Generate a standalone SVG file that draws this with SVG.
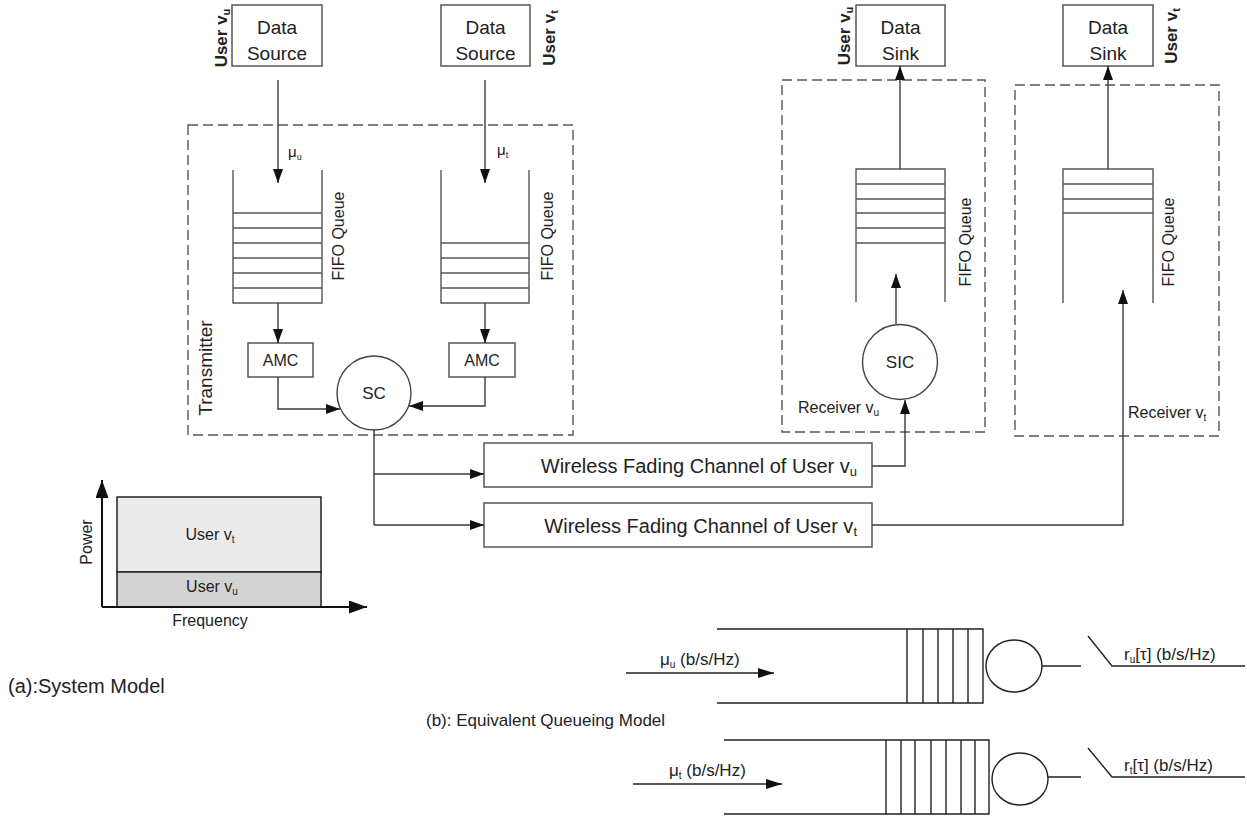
<svg xmlns="http://www.w3.org/2000/svg" width="1247" height="817" viewBox="0 0 1247 817">
<style>
text{font-family:"Liberation Sans",Arial,sans-serif;fill:#222}
.box{fill:#fff;stroke:#555;stroke-width:1.5}
.dash{fill:none;stroke:#555;stroke-width:1.4;stroke-dasharray:10 5}
.ln{fill:none;stroke:#3a3a3a;stroke-width:1.4}
.q{fill:none;stroke:#555;stroke-width:1.4}
.qk{fill:none;stroke:#222;stroke-width:1.4}
.arr{marker-end:url(#ah)}
.lbl{font-size:17px;font-weight:bold}
.fifo{font-size:16px}
.ds{font-size:19px}
</style>
<defs>
<marker id="ah" markerUnits="userSpaceOnUse" viewBox="0 0 14 10" markerWidth="14" markerHeight="10" refX="14" refY="5" orient="auto"><path d="M0,0 L14,5 L0,10 z" fill="#111"/></marker>
<marker id="ahq" markerUnits="userSpaceOnUse" viewBox="0 0 16 10" markerWidth="16" markerHeight="10" refX="16" refY="5" orient="auto"><path d="M0,0 L16,5 L0,10 z" fill="#111"/></marker>
<marker id="ahc" markerUnits="userSpaceOnUse" viewBox="0 0 18 13" markerWidth="18" markerHeight="13" refX="18" refY="6.5" orient="auto"><path d="M0,0 L18,6.5 L0,13 z" fill="#111"/></marker>
</defs>
<rect width="1247" height="817" fill="#fff"/>

<!-- Transmitter -->
<g id="transmitter">
<rect class="dash" x="188" y="125" width="385" height="310"/>
<text transform="translate(212,368) rotate(-90)" text-anchor="middle" style="font-size:19px">Transmitter</text>
</g>

<g id="source-u">
<rect class="box" x="232" y="5" width="90" height="61"/>
<text class="ds" x="277" y="34" text-anchor="middle">Data</text>
<text class="ds" x="277" y="60" text-anchor="middle">Source</text>
<text class="lbl" transform="translate(227,38) rotate(-90)" text-anchor="middle">User v<tspan font-size="11" dy="3">u</tspan></text>
</g>
<g id="source-t">
<rect class="box" x="441" y="5" width="89" height="61"/>
<text class="ds" x="485.5" y="34" text-anchor="middle">Data</text>
<text class="ds" x="485.5" y="60" text-anchor="middle">Source</text>
<text class="lbl" transform="translate(555,38) rotate(-90)" text-anchor="middle">User v<tspan font-size="11" dy="3">t</tspan></text>
</g>

<g id="queue-tx-u">
<path class="q" d="M233,170 V303 H322 V170 M233,213 H322 M233,228 H322 M233,243 H322 M233,258 H322 M233,273 H322 M233,288 H322"/>
<text class="fifo" transform="translate(344,236) rotate(-90)" text-anchor="middle">FIFO Queue</text>
</g>
<g id="queue-tx-t">
<path class="q" d="M441,170 V303 H529 V170 M441,243 H529 M441,258 H529 M441,273 H529 M441,288 H529"/>
<text class="fifo" transform="translate(553,236) rotate(-90)" text-anchor="middle">FIFO Queue</text>
</g>

<g id="amc-u">
<rect class="box" x="248" y="343" width="65" height="34"/>
<text x="280.5" y="366" text-anchor="middle" style="font-size:16px">AMC</text>
</g>
<g id="amc-t">
<rect class="box" x="449" y="343" width="66" height="34"/>
<text x="482" y="366" text-anchor="middle" style="font-size:16px">AMC</text>
</g>
<g id="sc">
<circle cx="374" cy="393" r="37" fill="#fff" stroke="#444" stroke-width="1.4"/>
<text x="374" y="399" text-anchor="middle" style="font-size:17px">SC</text>
</g>

<g id="mu-labels">
<text x="288" y="157" style="font-size:15px">μ<tspan font-size="9" dy="3">u</tspan></text>
<text x="497" y="155" style="font-size:15px">μ<tspan font-size="9" dy="3">t</tspan></text>
</g>

<!-- Receivers -->
<g id="receiver-u">
<rect class="dash" x="782" y="80" width="203" height="352"/>
<text x="798" y="413" style="font-size:16px">Receiver v<tspan font-size="10" dy="3">u</tspan></text>
</g>
<g id="sink-u">
<rect class="box" x="856" y="5" width="89" height="61"/>
<text class="ds" x="900.5" y="34" text-anchor="middle">Data</text>
<text class="ds" x="900.5" y="60" text-anchor="middle">Sink</text>
<text class="lbl" transform="translate(850,36) rotate(-90)" text-anchor="middle">User v<tspan font-size="11" dy="3">u</tspan></text>
</g>
<g id="queue-rx-u">
<path class="q" d="M856,302 V169 H945 V302 M856,184 H945 M856,199 H945 M856,213 H945 M856,228 H945 M856,243 H945"/>
<text class="fifo" transform="translate(971,242) rotate(-90)" text-anchor="middle">FIFO Queue</text>
</g>
<g id="sic">
<circle cx="900" cy="362" r="37.5" fill="#fff" stroke="#444" stroke-width="1.4"/>
<text x="900" y="368" text-anchor="middle" style="font-size:17px">SIC</text>
</g>

<g id="receiver-t">
<rect class="dash" x="1015" y="85" width="204" height="351"/>
<text x="1128" y="418" style="font-size:16px">Receiver v<tspan font-size="10" dy="3">t</tspan></text>
</g>
<g id="sink-t">
<rect class="box" x="1063" y="5" width="90" height="61"/>
<text class="ds" x="1108" y="34" text-anchor="middle">Data</text>
<text class="ds" x="1108" y="60" text-anchor="middle">Sink</text>
<text class="lbl" transform="translate(1177,36) rotate(-90)" text-anchor="middle">User v<tspan font-size="11" dy="3">t</tspan></text>
</g>
<g id="queue-rx-t">
<path class="q" d="M1063,303 V169 H1153 V303 M1063,184 H1153 M1063,199 H1153 M1063,213 H1153"/>
<text class="fifo" transform="translate(1174,242) rotate(-90)" text-anchor="middle">FIFO Queue</text>
</g>

<!-- Channels -->
<g id="channel-u">
<rect class="box" x="484" y="443" width="388" height="44"/>
<text x="857" y="473" text-anchor="end" style="font-size:20px">Wireless Fading Channel of User v<tspan font-size="13" dy="3">u</tspan></text>
</g>
<g id="channel-t">
<rect class="box" x="484" y="503" width="388" height="44"/>
<text x="857" y="533" text-anchor="end" style="font-size:20px">Wireless Fading Channel of User v<tspan font-size="13" dy="3">t</tspan></text>
</g>

<!-- Connectors -->
<g id="connectors">
<path class="ln arr" d="M278,80 V183"/>
<path class="ln arr" d="M485,80 V183"/>
<path class="ln arr" d="M278,303 V343"/>
<path class="ln arr" d="M485,303 V343"/>
<path class="ln arr" d="M278,377 V409 H340"/>
<path class="ln arr" d="M485,377 V406 H409"/>
<path class="ln" d="M374,430 V525"/>
<path class="ln arr" d="M374,474 H484"/>
<path class="ln arr" d="M374,525 H484"/>
<path class="ln arr" d="M872,466 H905 V400"/>
<path class="ln arr" d="M872,525 H1123 V290"/>
<path class="ln arr" d="M896,324 V274"/>
<path class="ln arr" d="M900,169 V66"/>
<path class="ln arr" d="M1108,169 V66"/>
</g>

<!-- Power/Frequency chart -->
<g id="power-chart">
<rect x="117" y="497" width="204" height="75" fill="#ebebeb" stroke="#222" stroke-width="1.5"/>
<rect x="117" y="572" width="204" height="35" fill="#d3d3d3" stroke="#222" stroke-width="1.5"/>
<path d="M102,607 V480" stroke="#111" stroke-width="2" fill="none" marker-end="url(#ahc)"/>
<path d="M102,607 H367" stroke="#111" stroke-width="2" fill="none" marker-end="url(#ahc)"/>
<text x="210" y="540" text-anchor="middle" style="font-size:16px">User v<tspan font-size="10" dy="3">t</tspan></text>
<text x="212" y="592" text-anchor="middle" style="font-size:16px">User v<tspan font-size="10" dy="3">u</tspan></text>
<text transform="translate(92,542) rotate(-90)" text-anchor="middle" style="font-size:16px">Power</text>
<text x="210" y="626" text-anchor="middle" style="font-size:16px">Frequency</text>
</g>

<g id="captions">
<text x="8" y="693" style="font-size:20px">(a):System Model</text>
<text x="426" y="726" style="font-size:17px">(b): Equivalent Queueing Model</text>
</g>

<!-- Equivalent queueing model -->
<g id="queue-model-u">
<path class="qk" d="M717,629 H983 V703 H717 M907,629 V703 M923,629 V703 M938,629 V703 M953,629 V703 M968,629 V703"/>
<ellipse cx="1014" cy="666" rx="28" ry="26" fill="#fff" stroke="#222" stroke-width="1.4"/>
<path class="qk" d="M1042,666 H1081 M1088,636 L1112,666 H1245"/>
<path class="qk" d="M626,673 H774" marker-end="url(#ahq)"/>
<text x="660" y="665" style="font-size:17px">μ<tspan font-size="10" dy="3">u</tspan><tspan dy="-3"> (b/s/Hz)</tspan></text>
<text x="1124" y="660" style="font-size:17px">r<tspan font-size="10" dy="3">u</tspan><tspan dy="-3">[τ] (b/s/Hz)</tspan></text>
</g>
<g id="queue-model-t">
<path class="qk" d="M724,740 H989 V814 H724 M886,740 V814 M901,740 V814 M915,740 V814 M931,740 V814 M946,740 V814 M961,740 V814 M975,740 V814"/>
<ellipse cx="1020" cy="779" rx="28" ry="26" fill="#fff" stroke="#222" stroke-width="1.4"/>
<path class="qk" d="M1048,777 H1081 M1088,748 L1112,777 H1245"/>
<path class="qk" d="M633,784 H782" marker-end="url(#ahq)"/>
<text x="669" y="776" style="font-size:17px">μ<tspan font-size="10" dy="3">t</tspan><tspan dy="-3"> (b/s/Hz)</tspan></text>
<text x="1124" y="771" style="font-size:17px">r<tspan font-size="10" dy="3">t</tspan><tspan dy="-3">[τ] (b/s/Hz)</tspan></text>
</g>
</svg>
